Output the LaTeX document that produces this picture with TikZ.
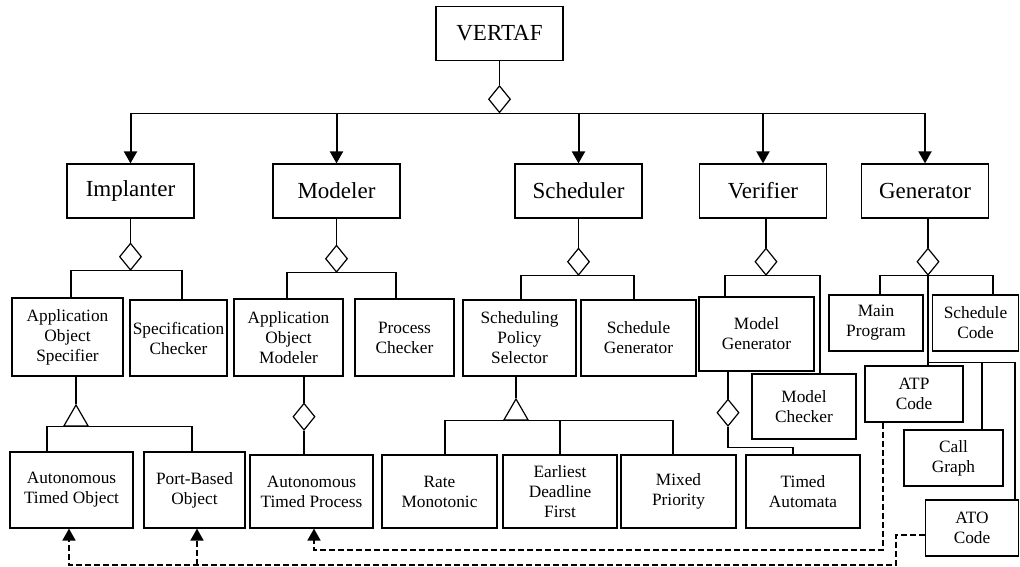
\documentclass[tikz,border=0pt]{standalone}
\usepackage{fontspec}
\setmainfont{Liberation Serif}
\usepackage{tikz}
\usetikzlibrary{arrows.meta,positioning,shapes.geometric}
\tikzset{
    %Define standard arrow tip
    >={Triangle[width=13pt,length=12pt]},
    %Define style for boxes
    boks/.style={
           rectangle,
           draw=black, line width=1.2pt,
           minimum width=127pt,
           minimum height=54pt,
           inner sep=0pt,
           font=\fontsize{23}{27}\selectfont,
           text centered},
    smaboks/.style={
           rectangle,
           draw=black, line width=1.2pt,
           inner sep=0pt,
           align=center,
           font=\fontsize{17.3}{20}\selectfont},
    sz/.style 2 args={minimum width=#1pt, minimum height=#2pt},
    %Define style for diamond and triangle
    aggr/.style={
           diamond,
           draw=black, fill=white, line width=1.2pt,
           inner sep=0pt,
           minimum width=22pt,
           minimum height=27pt},
    arv/.style={
           regular polygon, regular polygon sides=3,
           draw=black, fill=white, line width=1.2pt,
           inner sep=0pt,
           minimum size=28pt},
    % Define arrow style
    pil/.style={->, line width=2pt},
    stiplet/.style={->, line width=1.8pt, dash pattern=on 6pt off 3pt},
    linje/.style={line width=1.2pt}
}

\begin{document}
\begin{tikzpicture}[x=1pt,y=-1pt]
\useasboundingbox (0,0) rectangle (1020,567);
 %nodes
\node[boks] (vertaf) at (499.5,33.5) {VERTAF};
\node[boks] (impl) at (130.5,191) {Implanter};
\node[boks] (model) at (336.5,191) {Modeler};
\node[boks] (sched) at (578.5,191) {Scheduler};
\node[boks] (verif) at (763,191) {Verifier};
\node[boks] (gen) at (925,191) {Generator};

\node[aggr, below=24pt of vertaf] (dtop) {};
\node[aggr, below=24pt of impl] (dimpl) {};
\node[aggr, below=26pt of model] (dmod) {};
\node[aggr, below=29pt of sched] (dsch) {};
\node[aggr, below=29pt of verif, xshift=3pt] (dver) {};
\node[aggr, below=29pt of gen, xshift=3pt] (dgen) {};

\node[smaboks, sz={111}{78}] (aos) at (67.5,337) {Application\\Object\\Specifier};
\node[smaboks, sz={97}{76}] (spc) at (178.5,338) {Specification\\Checker};
\node[smaboks, sz={109}{77}] (aom) at (288.5,337.5) {Application\\Object\\Modeler};
\node[smaboks, sz={99}{77}] (pc) at (404.5,337.5) {Process\\Checker};
\node[smaboks, sz={113}{76}] (sps) at (519.5,338) {Scheduling\\Policy\\Selector};
\node[smaboks, sz={115}{76}] (sg) at (638.5,338) {Schedule\\Generator};
\node[smaboks, sz={115}{74}] (mg) at (756.5,334) {Model\\Generator};
\node[smaboks, sz={104}{65}] (mc) at (804,406.5) {Model\\Checker};
\node[smaboks, sz={94}{56}] (mp) at (876,323) {Main\\Program};
\node[smaboks, sz={86}{56}] (scode) at (975.5,323) {Schedule\\Code};
\node[smaboks, sz={98}{56}] (atp) at (914,394) {ATP\\Code};
\node[smaboks, sz={99}{56}] (cg) at (953.5,458) {Call\\Graph};
\node[smaboks, sz={93}{56}] (ato) at (972,528) {ATO\\Code};

\node[smaboks, sz={123}{76}] (atobj) at (71.5,490) {Autonomous\\Timed Object};
\node[smaboks, sz={101}{76}] (pbo) at (194.5,490) {Port-Based\\Object};
\node[smaboks, sz={123}{73}] (atproc) at (311.5,491.5) {Autonomous\\Timed Process};
\node[smaboks, sz={115}{73}] (rm) at (439.5,491.5) {Rate\\Monotonic};
\node[smaboks, sz={114}{73}] (edf) at (560,491.5) {Earliest\\Deadline\\First};
\node[smaboks, sz={115}{73}] (mxp) at (678.5,491.5) {Mixed\\Priority};
\node[smaboks, sz={114}{73}] (ta) at (803,491.5) {Timed\\Automata};

\node[arv, anchor=south] (timpl) at ([xshift=8.5pt,yshift=-50pt]aos.south) {};
\node[arv, anchor=south] (tsch) at ([xshift=-3.5pt,yshift=-44pt]sps.south) {};
\node[aggr, anchor=north] (dmod2) at ([xshift=15.5pt,yshift=-26pt]aom.south) {};
\node[aggr, anchor=north] (dver2) at ([xshift=-28.5pt,yshift=-27pt]mg.south) {};

 %top level
\draw[linje] (vertaf) -- (dtop);
\draw[linje] (impl.north |- dtop.south) -- (gen.north |- dtop.south);
\draw[pil] (impl.north |- dtop.south) -- (impl.north);
\draw[pil] (model.north |- dtop.south) -- (model.north);
\draw[pil] (sched.north |- dtop.south) -- (sched.north);
\draw[pil] (verif.north |- dtop.south) -- (verif.north);
\draw[pil] (gen.north |- dtop.south) -- (gen.north);

 %second level
\draw[linje] (impl) -- (dimpl);
\draw[linje] (model) -- (dmod);
\draw[linje] (sched) -- (dsch);
\draw[linje] (dver.north |- verif.south) -- (dver.north);
\draw[linje] (dgen.north |- gen.south) -- (dgen.north);
\draw[linje] ([xshift=3.5pt]aos.north) |- (dimpl.south) -| ([xshift=3.5pt]spc.north);
\draw[linje] ([xshift=-1.5pt]aom.north) |- (dmod.south) -| ([xshift=-8.5pt]pc.north);
\draw[linje] ([xshift=1.5pt]sps.north) |- (dsch.south) -| ([xshift=-4.5pt]sg.north);
\draw[linje] ([xshift=-31.5pt]mg.north) |- (dver.south) -| ([xshift=16pt]mc.north);
\draw[linje] ([xshift=4pt]mp.north) |- (dgen.south) -| ([xshift=17.5pt]scode.north);
\draw[linje] (dgen.south) -- (dgen.south |- atp.north);
\path (dgen.south) ++(0,87) coordinate (gsplit);
\draw[linje] (gsplit) -| ([xshift=43pt]ato.north);
\draw[linje] ([xshift=28.5pt]cg.north) -- ([xshift=28.5pt]cg.north |- gsplit);

 %third level
\draw[linje] (timpl.north) -- (timpl.north |- aos.south);
\draw[linje] ([xshift=-24.5pt]atobj.north) |- (timpl.south) -| ([xshift=-2.5pt]pbo.north);
\draw[linje] (tsch.north) -- (tsch.north |- sps.south);
\draw[linje] ([xshift=5.5pt]rm.north) |- (tsch.south) -| ([xshift=-5.5pt]mxp.north);
\draw[linje] (edf.north) -- (edf.north |- tsch.south);
\draw[linje] (dmod2.north) -- (dmod2.north |- aom.south);
\draw[linje] (dmod2.south) -- (dmod2.south |- atproc.north);
\draw[linje] (dver2.north) -- (dver2.north |- mg.south);
\draw[linje] (dver2.south) -- ++(0,21) -| ([xshift=-10pt]ta.north);

 %code links
\draw[stiplet] ([xshift=-31pt]atp.south) -- ++(0,127) -| ([xshift=2.5pt]atproc.south);
\draw[stiplet] ([yshift=-7pt]ato.west) -- ++(-29,0) -- ++(0,30) coordinate (dlow) -| ([xshift=-2.5pt]atobj.south);
\draw[stiplet] ([xshift=2.5pt]pbo.south |- dlow) -- ([xshift=2.5pt]pbo.south);
\end{tikzpicture}
\end{document}
